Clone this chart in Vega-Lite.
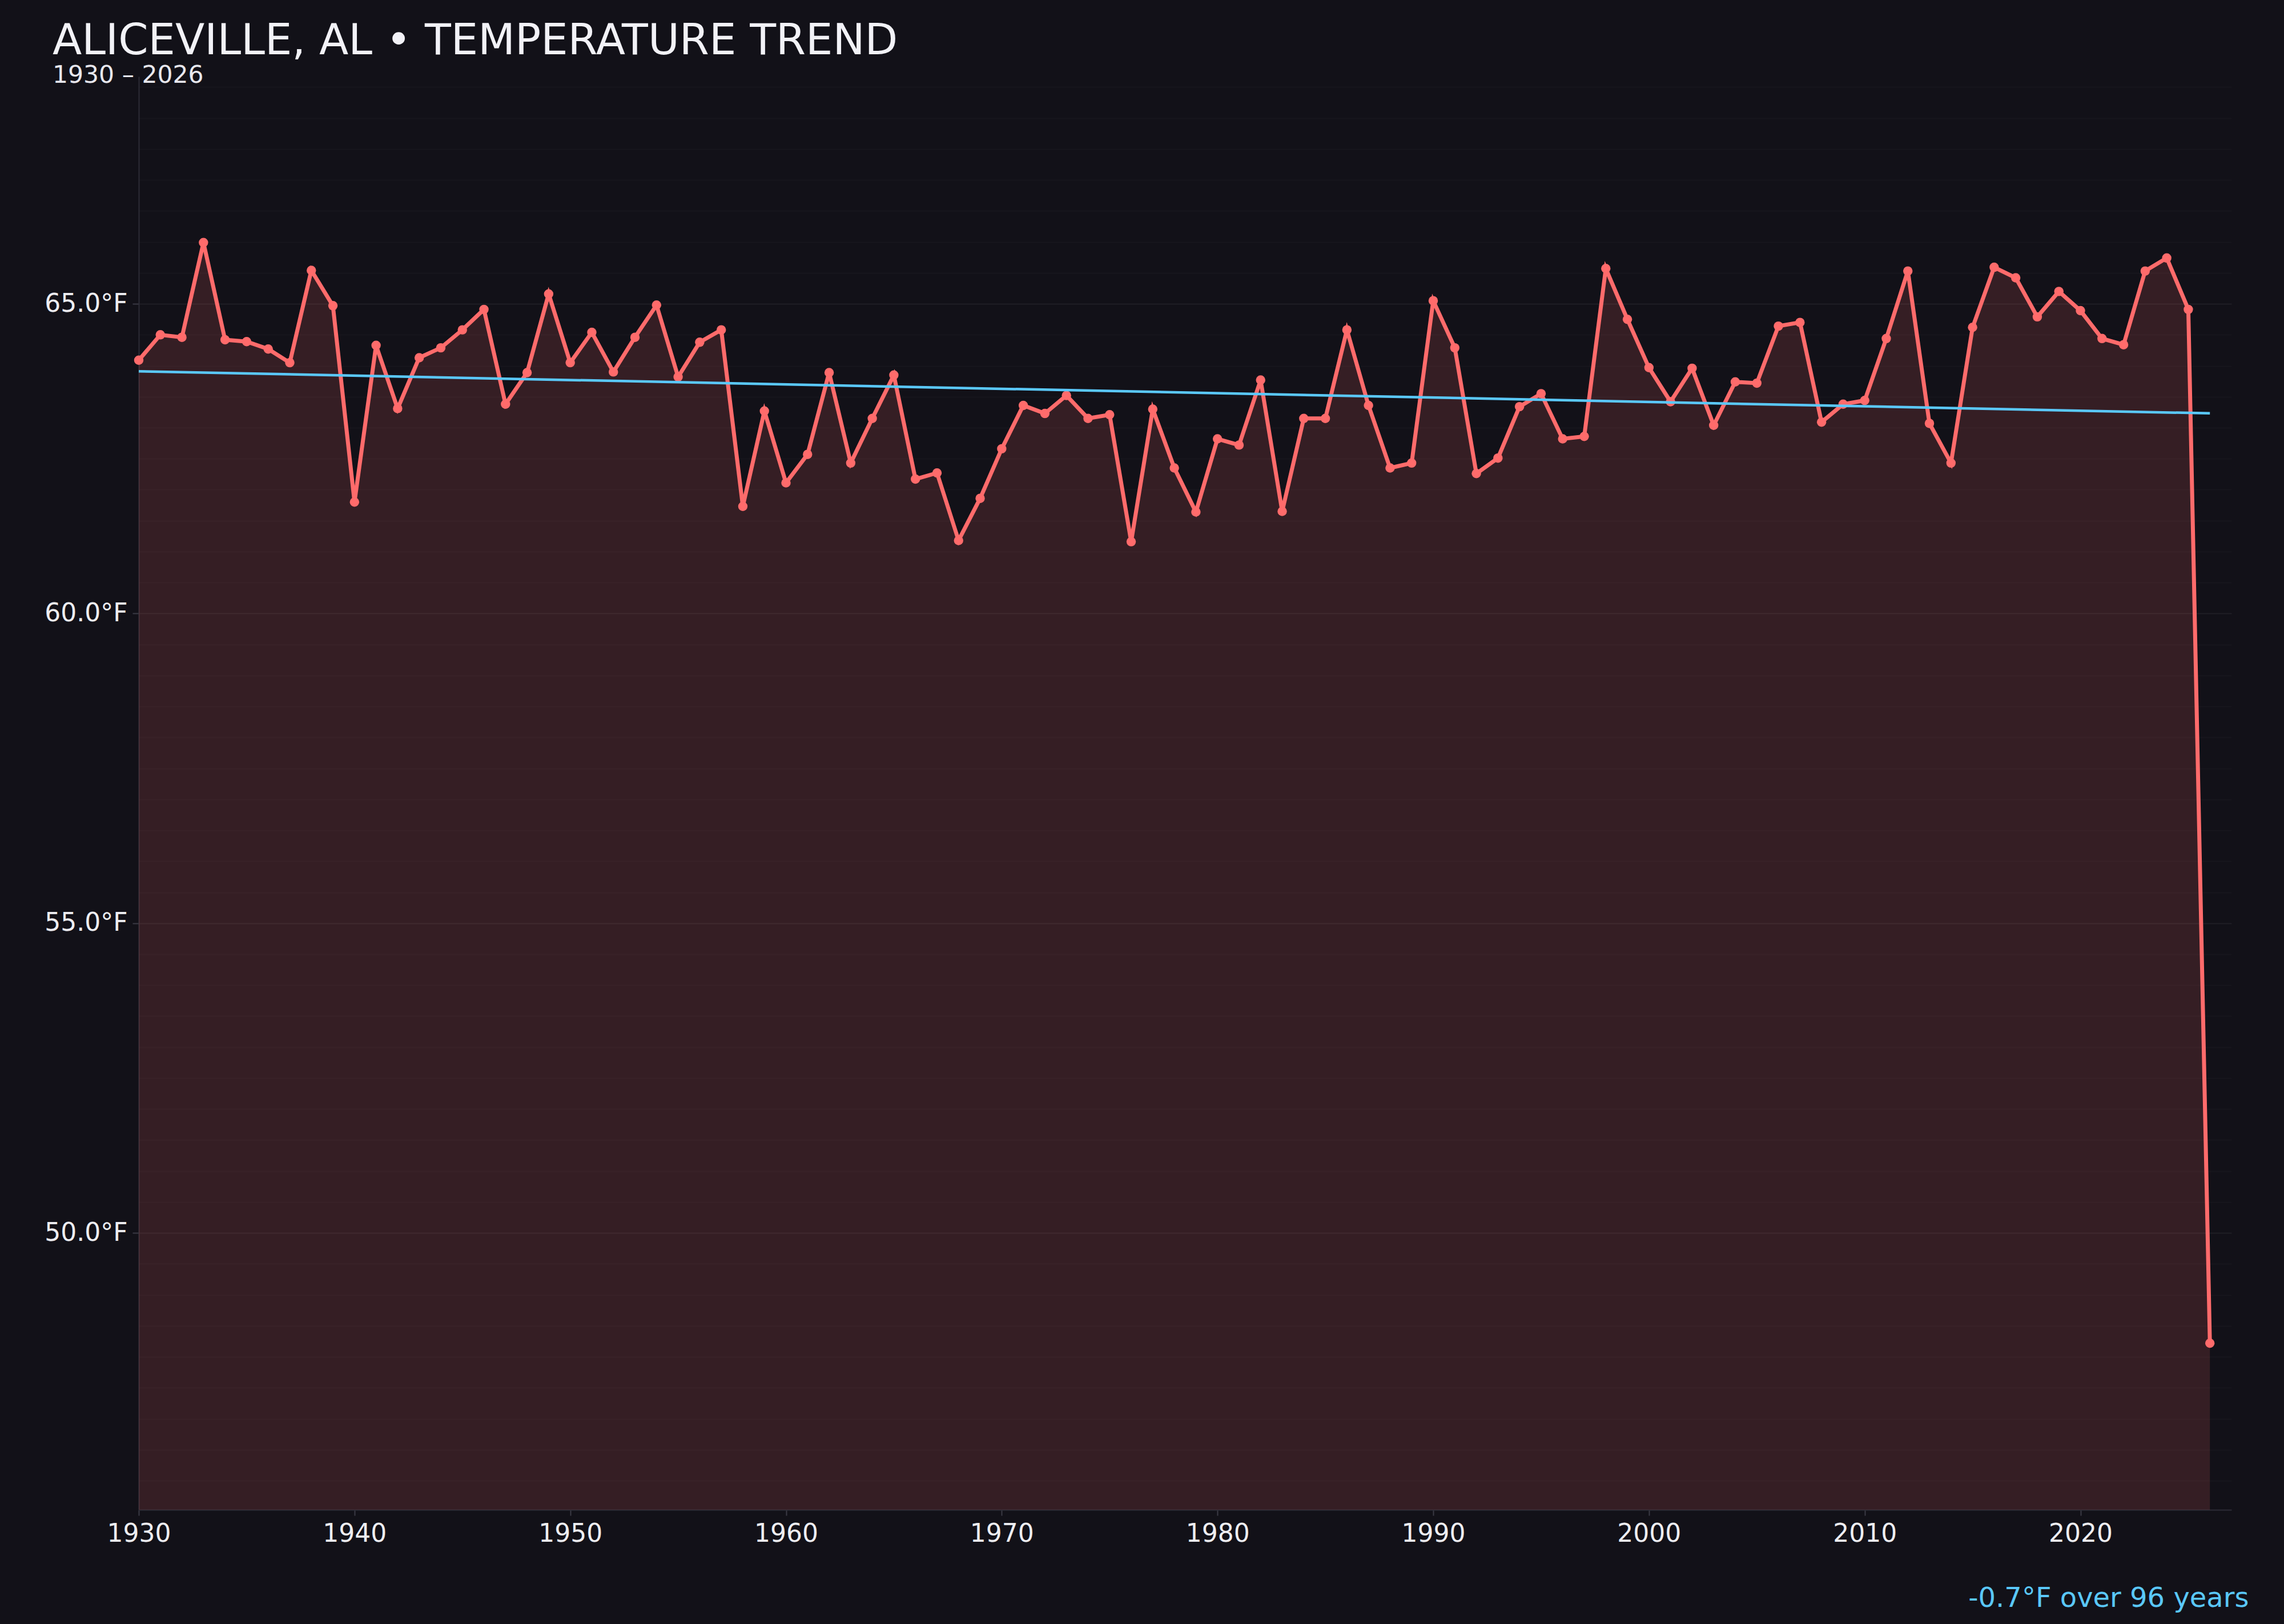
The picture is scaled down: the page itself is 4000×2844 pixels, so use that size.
{
  "$schema": "https://vega.github.io/schema/vega-lite/v6.json",
  "width": 3665,
  "height": 2510,
  "autosize": {"type": "none"},
  "padding": {"left": 243, "top": 134, "right": 92, "bottom": 200},
  "background": "#121118",
  "config": {
    "view": {"stroke": null},
    "font": "DejaVu Sans"
  },
  "title": {
    "text": "ALICEVILLE, AL • TEMPERATURE TREND",
    "subtitle": "1930 – 2026",
    "anchor": "start",
    "frame": "group",
    "dx": -151,
    "offset": -20,
    "font": "DejaVu Sans",
    "fontSize": 75,
    "fontWeight": "normal",
    "color": "#f2f2f7",
    "subtitleFont": "DejaVu Sans",
    "subtitleFontSize": 42.5,
    "subtitleColor": "#e8e8ee",
    "subtitlePadding": 0
  },
  "data": {
    "values": [
      {"year": 1930, "temp": 64.09}, {"year": 1931, "temp": 64.50}, {"year": 1932, "temp": 64.46},
      {"year": 1933, "temp": 65.99}, {"year": 1934, "temp": 64.42}, {"year": 1935, "temp": 64.39},
      {"year": 1936, "temp": 64.27}, {"year": 1937, "temp": 64.05}, {"year": 1938, "temp": 65.54},
      {"year": 1939, "temp": 64.97}, {"year": 1940, "temp": 61.80}, {"year": 1941, "temp": 64.33},
      {"year": 1942, "temp": 63.31}, {"year": 1943, "temp": 64.13}, {"year": 1944, "temp": 64.29},
      {"year": 1945, "temp": 64.58}, {"year": 1946, "temp": 64.91}, {"year": 1947, "temp": 63.38},
      {"year": 1948, "temp": 63.89}, {"year": 1949, "temp": 65.16}, {"year": 1950, "temp": 64.05},
      {"year": 1951, "temp": 64.54}, {"year": 1952, "temp": 63.90}, {"year": 1953, "temp": 64.46},
      {"year": 1954, "temp": 64.98}, {"year": 1955, "temp": 63.82}, {"year": 1956, "temp": 64.38},
      {"year": 1957, "temp": 64.58}, {"year": 1958, "temp": 61.73}, {"year": 1959, "temp": 63.27},
      {"year": 1960, "temp": 62.11}, {"year": 1961, "temp": 62.57}, {"year": 1962, "temp": 63.89},
      {"year": 1963, "temp": 62.43}, {"year": 1964, "temp": 63.15}, {"year": 1965, "temp": 63.85},
      {"year": 1966, "temp": 62.17}, {"year": 1967, "temp": 62.27}, {"year": 1968, "temp": 61.18},
      {"year": 1969, "temp": 61.86}, {"year": 1970, "temp": 62.66}, {"year": 1971, "temp": 63.36},
      {"year": 1972, "temp": 63.23}, {"year": 1973, "temp": 63.52}, {"year": 1974, "temp": 63.15},
      {"year": 1975, "temp": 63.21}, {"year": 1976, "temp": 61.16}, {"year": 1977, "temp": 63.30},
      {"year": 1978, "temp": 62.35}, {"year": 1979, "temp": 61.64}, {"year": 1980, "temp": 62.82},
      {"year": 1981, "temp": 62.72}, {"year": 1982, "temp": 63.77}, {"year": 1983, "temp": 61.65},
      {"year": 1984, "temp": 63.15}, {"year": 1985, "temp": 63.15}, {"year": 1986, "temp": 64.58},
      {"year": 1987, "temp": 63.36}, {"year": 1988, "temp": 62.35}, {"year": 1989, "temp": 62.43},
      {"year": 1990, "temp": 65.05}, {"year": 1991, "temp": 64.29}, {"year": 1992, "temp": 62.26},
      {"year": 1993, "temp": 62.51}, {"year": 1994, "temp": 63.34}, {"year": 1995, "temp": 63.55},
      {"year": 1996, "temp": 62.82}, {"year": 1997, "temp": 62.86}, {"year": 1998, "temp": 65.57},
      {"year": 1999, "temp": 64.75}, {"year": 2000, "temp": 63.97}, {"year": 2001, "temp": 63.42},
      {"year": 2002, "temp": 63.96}, {"year": 2003, "temp": 63.04}, {"year": 2004, "temp": 63.74},
      {"year": 2005, "temp": 63.72}, {"year": 2006, "temp": 64.64}, {"year": 2007, "temp": 64.70},
      {"year": 2008, "temp": 63.09}, {"year": 2009, "temp": 63.38}, {"year": 2010, "temp": 63.44},
      {"year": 2011, "temp": 64.44}, {"year": 2012, "temp": 65.53}, {"year": 2013, "temp": 63.07},
      {"year": 2014, "temp": 62.43}, {"year": 2015, "temp": 64.62}, {"year": 2016, "temp": 65.59},
      {"year": 2017, "temp": 65.42}, {"year": 2018, "temp": 64.79}, {"year": 2019, "temp": 65.20},
      {"year": 2020, "temp": 64.89}, {"year": 2021, "temp": 64.44}, {"year": 2022, "temp": 64.34},
      {"year": 2023, "temp": 65.53}, {"year": 2024, "temp": 65.74}, {"year": 2025, "temp": 64.91},
      {"year": 2026, "temp": 48.22}
    ]
  },
  "encoding": {
    "x": {
      "field": "year",
      "type": "quantitative",
      "scale": {"domain": [1930, 2027], "nice": false, "zero": false},
      "axis": {
        "values": [1930, 1940, 1950, 1960, 1970, 1980, 1990, 2000, 2010, 2020],
        "format": "d",
        "labelFlush": false,
        "grid": false,
        "domainColor": "#2c2c36",
        "domainWidth": 2,
        "tickColor": "#3a3a44",
        "tickWidth": 2,
        "tickSize": 10,
        "labelFont": "DejaVu Sans",
        "labelFontSize": 44,
        "labelColor": "#eeeef2",
        "labelPadding": 10,
        "title": "-0.7°F over 96 years",
        "titleFont": "DejaVu Sans",
        "titleFontSize": 48,
        "titleFontWeight": "normal",
        "titleColor": "#5ac8fa",
        "titleAlign": "right",
        "titleAnchor": "end",
        "titleBaseline": "alphabetic",
        "titleX": 3695,
        "titleY": 169
      }
    },
    "y": {
      "field": "temp",
      "type": "quantitative",
      "scale": {"domain": [45.53, 68.67], "nice": false, "zero": false},
      "axis": {
        "values": [46, 46.5, 47, 47.5, 48, 48.5, 49, 49.5, 50, 50.5, 51, 51.5, 52, 52.5, 53, 53.5, 54, 54.5, 55, 55.5, 56, 56.5, 57, 57.5, 58, 58.5, 59, 59.5, 60, 60.5, 61, 61.5, 62, 62.5, 63, 63.5, 64, 64.5, 65, 65.5, 66, 66.5, 67, 67.5, 68, 68.5],
        "labelExpr": "datum.value % 5 === 0 ? format(datum.value, '.1f') + '°F' : ''",
        "grid": true,
        "gridColor": "#ffffff",
        "gridOpacity": {"condition": {"test": "datum.value % 5 === 0", "value": 0.06}, "value": 0.022},
        "gridWidth": 2,
        "tickOpacity": {"condition": {"test": "datum.value % 5 === 0", "value": 1}, "value": 0},
        "tickColor": "#3a3a44",
        "tickWidth": 2,
        "tickSize": 11,
        "domainColor": "#2c2c36",
        "domainWidth": 2,
        "labelFont": "DejaVu Sans",
        "labelFontSize": 44,
        "labelColor": "#eeeef2",
        "labelPadding": 9,
        "title": null
      }
    }
  },
  "layer": [
    {
      "mark": {"type": "area", "color": "#ff6b6b", "opacity": 0.15},
      "encoding": {"y2": {"datum": 45.53}}
    },
    {
      "mark": {"type": "line", "color": "#ff6b6b", "strokeWidth": 7}
    },
    {
      "mark": {"type": "point", "filled": true, "color": "#ff6b6b", "opacity": 1, "size": 270}
    },
    {
      "transform": [
        {"regression": "temp", "on": "year", "method": "linear", "extent": [1930, 2026]}
      ],
      "mark": {"type": "line", "color": "#5ac8fa", "strokeWidth": 4.5}
    }
  ]
}
